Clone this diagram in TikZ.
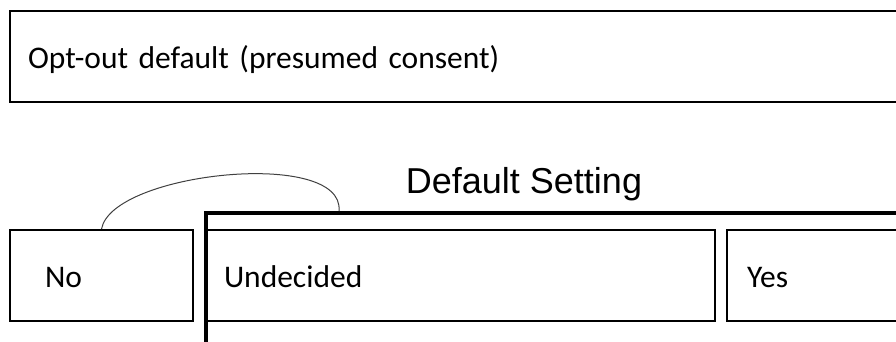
\documentclass[tikz,border=0pt]{standalone}
\usepackage{fontspec}
\setmainfont{Carlito}
\newfontfamily\arialfont{Liberation Sans}
\tikzset{
  box/.style={draw, line width=2pt, rectangle, anchor=north west, minimum height=91pt,
    text height=24pt, text depth=0pt, align=left, inner ysep=0pt,
    font=\fontsize{31.5}{37}\selectfont},
  groupbox/.style={draw, line width=3.5pt, rectangle, anchor=north west, inner sep=0pt},
  grouplabel/.style={anchor=base, font=\arialfont\fontsize{36}{43}\selectfont},
  arc/.style={line width=1pt, black!75}
}
\begin{document}
\begin{tikzpicture}[x=1pt, y=-1pt]
\useasboundingbox (0,0) rectangle (896,342);
\clip (0,0) rectangle (896,342);
\node[box, inner xsep=18pt, text width=875pt] (top) at (9,10) {Opt-out default (presumed consent)};
\node[groupbox, minimum width=720pt, minimum height=160pt] (default) at (204,211) {};
\node[grouplabel] (deflabel) at (524,193) {Default Setting};
\node[box, inner xsep=35pt, text width=113pt] (no) at (9,229) {No};
\node[box, inner xsep=18pt, text width=473pt] (undecided) at (205,229) {Undecided};
\node[box, inner xsep=20pt, text width=160pt] (yes) at (726,229) {Yes};
\coordinate (arcend) at (339,211);
\draw[arc] (no.north) .. controls (112,172) and (345,148) .. (arcend);
\end{tikzpicture}
\end{document}
